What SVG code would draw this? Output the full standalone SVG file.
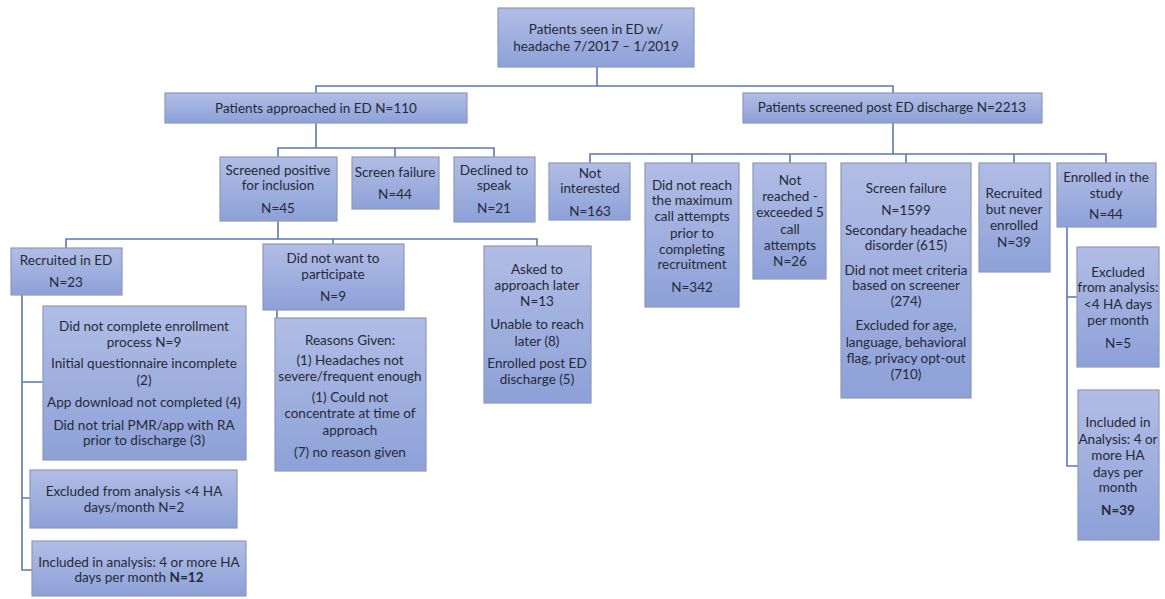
<svg xmlns="http://www.w3.org/2000/svg" width="1165" height="599" viewBox="0 0 1165 599">
<defs>
<linearGradient id="g" x1="0" y1="0" x2="0" y2="1">
<stop offset="0" stop-color="#b1bde5"/>
<stop offset="1" stop-color="#8da1d8"/>
</linearGradient>
<style>
.b{fill:url(#g);stroke:#8e98ba;stroke-width:1.2}
text{font-family:Lato,"Noto Sans","Liberation Sans",sans-serif;font-size:13.5px;fill:#262a38;text-anchor:middle}
.c{fill:none;stroke:#5a78b6;stroke-width:1.6}
.bold{font-weight:bold}
</style>
</defs>
<rect width="1165" height="599" fill="#ffffff"/>
<g id="connectors">
<path class="c" d="M597 67V86M316 93V86H893V93"/>
<path class="c" d="M316 123V148M278 157V148H494V157M395 148V157"/>
<path class="c" d="M893 123V154M590 163V154H1106V163M692 154V163M790 154V163M906 154V163M1014 154V163"/>
<path class="c" d="M278 221V239M66 248V239H537V246M333 239V244"/>
<path class="c" d="M22 295V570H32M22 382H43M22 498H30"/>
<path class="c" d="M277 310V318"/>
<path class="c" d="M1067 227V466H1078M1067 297H1077"/>
</g>
<g id="n-top"><rect class="b" x="498" y="8" width="196" height="59"/>
<text x="596" y="34">Patients seen in ED w/</text><text x="596" y="51">headache 7/2017 – 1/2019</text></g>
<g id="n-approached"><rect class="b" x="165" y="93" width="302" height="30"/>
<text x="316" y="113">Patients approached in ED N=110</text></g>
<g id="n-screened-post"><rect class="b" x="743" y="93" width="299" height="30"/>
<text x="892" y="112">Patients screened post ED discharge N=2213</text></g>
<g id="n-screened-positive"><rect class="b" x="220" y="157" width="117" height="64"/>
<text x="278" y="175">Screened positive</text><text x="278" y="190">for inclusion</text><text x="278" y="213">N=45</text></g>
<g id="n-screen-failure-44"><rect class="b" x="352" y="157" width="87" height="52"/>
<text x="395" y="177">Screen failure</text><text x="395" y="199">N=44</text></g>
<g id="n-declined"><rect class="b" x="454" y="157" width="81" height="65"/>
<text x="494" y="175">Declined to</text><text x="494" y="190">speak</text><text x="494" y="213">N=21</text></g>
<g id="n-not-interested"><rect class="b" x="549" y="163" width="81" height="57"/>
<text x="590" y="178">Not</text><text x="590" y="193">interested</text><text x="590" y="216">N=163</text></g>
<g id="n-did-not-reach"><rect class="b" x="645" y="163" width="94" height="144"/>
<text x="692" y="190">Did not reach</text><text x="692" y="205">the maximum</text><text x="692" y="221">call attempts</text><text x="692" y="238">prior to</text><text x="692" y="254">completing</text><text x="692" y="269">recruitment</text><text x="692" y="292">N=342</text></g>
<g id="n-not-reached"><rect class="b" x="753" y="163" width="73" height="116"/>
<text x="790" y="185">Not</text><text x="790" y="201">reached -</text><text x="790" y="217">exceeded 5</text><text x="790" y="234">call</text><text x="790" y="250">attempts</text><text x="790" y="266">N=26</text></g>
<g id="n-screen-failure-1599"><rect class="b" x="841" y="163" width="130" height="235"/>
<text x="906" y="193">Screen failure</text><text x="906" y="215">N=1599</text><text x="906" y="235">Secondary headache</text><text x="906" y="250">disorder (615)</text><text x="906" y="275">Did not meet criteria</text><text x="906" y="290">based on screener</text><text x="906" y="306">(274)</text><text x="906" y="330">Excluded for age,</text><text x="906" y="347">language, behavioral</text><text x="906" y="363">flag, privacy opt-out</text><text x="906" y="379">(710)</text></g>
<g id="n-recruited-never"><rect class="b" x="979" y="163" width="71" height="109"/>
<text x="1014" y="198">Recruited</text><text x="1014" y="214">but never</text><text x="1014" y="230">enrolled</text><text x="1014" y="247">N=39</text></g>
<g id="n-enrolled"><rect class="b" x="1057" y="163" width="99" height="64"/>
<text x="1106" y="182">Enrolled in the</text><text x="1106" y="198">study</text><text x="1106" y="219">N=44</text></g>
<g id="n-recruited-ed"><rect class="b" x="11" y="248" width="111" height="47"/>
<text x="66" y="265">Recruited in ED</text><text x="66" y="287">N=23</text></g>
<g id="n-did-not-want"><rect class="b" x="263" y="244" width="141" height="66"/>
<text x="333" y="263">Did not want to</text><text x="333" y="279">participate</text><text x="333" y="301">N=9</text></g>
<g id="n-asked-later"><rect class="b" x="484" y="246" width="107" height="157"/>
<text x="537" y="274">Asked to</text><text x="537" y="290">approach later</text><text x="537" y="306">N=13</text><text x="537" y="329">Unable to reach</text><text x="537" y="346">later (8)</text><text x="537" y="368">Enrolled post ED</text><text x="537" y="384">discharge (5)</text></g>
<g id="n-did-not-complete"><rect class="b" x="43" y="306" width="203" height="154"/>
<text x="144" y="331">Did not complete enrollment</text><text x="144" y="347">process N=9</text><text x="144" y="368">Initial questionnaire incomplete</text><text x="144" y="385">(2)</text><text x="144" y="407">App download not completed (4)</text><text x="144" y="430">Did not trial PMR/app with RA</text><text x="144" y="445">prior to discharge (3)</text></g>
<g id="n-reasons"><rect class="b" x="275" y="318" width="151" height="153"/>
<text x="350" y="345">Reasons Given:</text><text x="350" y="365">(1) Headaches not</text><text x="350" y="381">severe/frequent enough</text><text x="350" y="402">(1) Could not</text><text x="350" y="418">concentrate at time of</text><text x="350" y="435">approach</text><text x="350" y="457">(7) no reason given</text></g>
<g id="n-excluded-left"><rect class="b" x="30" y="470" width="207" height="58"/>
<text x="134" y="496">Excluded from analysis &lt;4 HA</text><text x="134" y="512">days/month N=2</text></g>
<g id="n-included-left"><rect class="b" x="32" y="541" width="214" height="55"/>
<text x="139" y="567">Included in analysis: 4 or more HA</text><text x="139" y="582">days per month <tspan class="bold">N=12</tspan></text></g>
<g id="n-excluded-right"><rect class="b" x="1077" y="247" width="82" height="120"/>
<text x="1118" y="277">Excluded</text><text x="1118" y="292">from analysis:</text><text x="1118" y="309">&lt;4 HA days</text><text x="1118" y="325">per month</text><text x="1118" y="348">N=5</text></g>
<g id="n-included-right"><rect class="b" x="1078" y="390" width="81" height="150"/>
<text x="1118" y="427">Included in</text><text x="1118" y="444">Analysis: 4 or</text><text x="1118" y="460">more HA</text><text x="1118" y="477">days per</text><text x="1118" y="492">month</text><text x="1118" y="515" class="bold">N=39</text></g>
</svg>
